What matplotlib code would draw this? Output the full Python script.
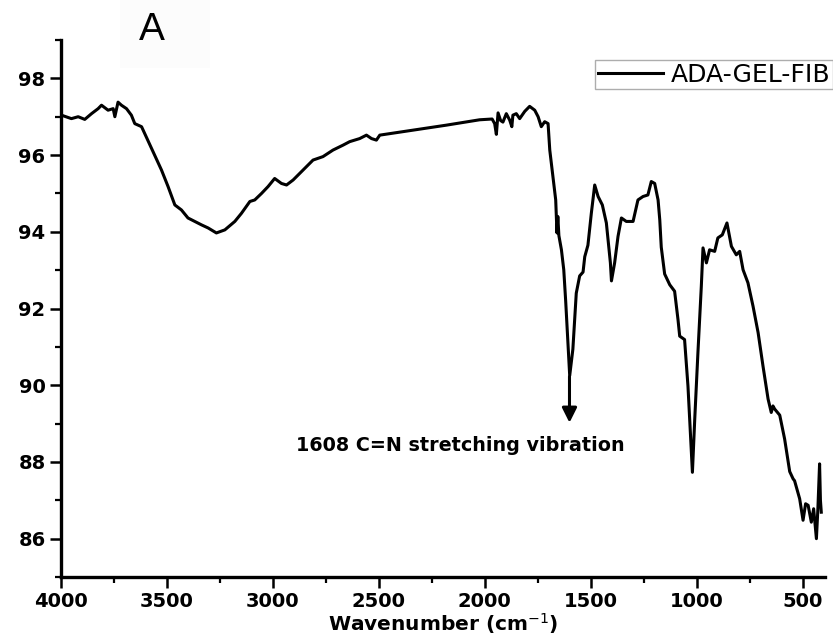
import matplotlib
matplotlib.use("Agg")
import matplotlib.pyplot as plt
from matplotlib.patches import Rectangle
from matplotlib.ticker import MultipleLocator

# FTIR spectrum (wavenumber in cm-1, transmittance %)
wavenumber = [4000, 3997, 3950, 3918, 3887, 3855, 3824, 3808, 3777, 3753,
              3745, 3730, 3714, 3690, 3667, 3651, 3619, 3604, 3572, 3525,
              3494, 3462, 3431, 3400, 3368, 3336, 3305, 3266, 3226, 3179,
              3148, 3108, 3085, 3053, 3022, 2991, 2959, 2935, 2904, 2857,
              2810, 2763, 2716, 2668, 2637, 2590, 2558, 2534, 2511, 2495,
              2338, 2181, 2024, 1965, 1953, 1945, 1937, 1925, 1914, 1898,
              1882, 1872, 1867, 1851, 1835, 1811, 1788, 1764, 1748, 1733,
              1717, 1701, 1693, 1678, 1665, 1659, 1655, 1650, 1638, 1627,
              1618, 1608, 1599, 1584, 1568, 1552, 1536, 1528, 1513, 1497,
              1481, 1465, 1445, 1426, 1407, 1402, 1387, 1371, 1355, 1332,
              1300, 1277, 1253, 1230, 1214, 1198, 1182, 1174, 1167, 1151,
              1127, 1104, 1088, 1080, 1057, 1041, 1025, 1020, 1009, 994,
              978, 970, 954, 939, 915, 900, 879, 857, 836, 813,
              797, 781, 758, 734, 710, 687, 663, 648, 640, 632,
              608, 585, 561, 545, 538, 514, 498, 486, 474, 459,
              448, 435, 428, 420, 416, 412]
transmittance = [97.02, 97.04, 96.95, 97.00, 96.93, 97.08, 97.21, 97.30, 97.17, 97.21,
                 97.00, 97.38, 97.30, 97.21, 97.04, 96.82, 96.74, 96.56, 96.17, 95.61,
                 95.18, 94.70, 94.57, 94.36, 94.27, 94.18, 94.10, 93.97, 94.05, 94.27,
                 94.48, 94.79, 94.83, 95.00, 95.18, 95.39, 95.26, 95.22, 95.35, 95.61,
                 95.87, 95.96, 96.13, 96.26, 96.35, 96.43, 96.52, 96.43, 96.39, 96.52,
                 96.65, 96.78, 96.92, 96.94, 96.82, 96.54, 97.10, 96.90, 96.86, 97.08,
                 96.91, 96.74, 97.04, 97.08, 96.95, 97.14, 97.27, 97.17, 97.00, 96.74,
                 96.87, 96.82, 96.13, 95.44, 94.83, 93.97, 94.40, 93.90, 93.53, 93.01,
                 92.20, 91.20, 90.25, 90.94, 92.40, 92.85, 92.95, 93.35, 93.65, 94.48,
                 95.22, 94.92, 94.70, 94.23, 93.19, 92.72, 93.19, 93.88, 94.36, 94.27,
                 94.27, 94.83, 94.92, 94.96, 95.31, 95.26, 94.83, 94.31, 93.60, 92.90,
                 92.62, 92.45, 91.71, 91.28, 91.19, 89.98, 88.25, 87.73, 89.12, 90.85,
                 92.58, 93.58, 93.19, 93.53, 93.49, 93.84, 93.92, 94.23, 93.62, 93.40,
                 93.49, 93.01, 92.67, 92.06, 91.37, 90.50, 89.64, 89.29, 89.46, 89.38,
                 89.22, 88.60, 87.75, 87.56, 87.51, 87.04, 86.48, 86.91, 86.87, 86.43,
                 86.78, 86.00, 86.78, 87.95, 87.00, 86.69]

series_label = "ADA-GEL-FIB"
peak_pos = 1600
peak_top = 90.3
peak_tip = 88.95
peak_note = "1608 C=N stretching vibration"

plt.rcParams['font.family'] = ['DejaVu Sans']

fig = plt.figure(figsize=(8.33, 6.43), dpi=100)
ax = fig.add_axes([0.073, 0.1026, 0.917, 0.8352])

ax.plot(wavenumber, transmittance, color='black', lw=2.2, label=series_label)

ax.set_xlim(4000, 396)
ax.set_ylim(85, 99)
ax.xaxis.set_major_locator(MultipleLocator(500))
ax.xaxis.set_minor_locator(MultipleLocator(250))
ax.yaxis.set_major_locator(MultipleLocator(2))
ax.yaxis.set_minor_locator(MultipleLocator(1))
ax.set_yticks(range(86, 99, 2))

for s in ['top', 'right']:
    ax.spines[s].set_visible(False)
for s in ['left', 'bottom']:
    ax.spines[s].set_linewidth(2.4)

ax.tick_params(which='major', direction='out', length=8, width=1.8, pad=3)
ax.tick_params(which='minor', direction='out', length=4.5, width=1.6)
for lab in ax.get_xticklabels() + ax.get_yticklabels():
    lab.set_fontweight('bold')
    lab.set_fontsize(14)

ax.set_xlabel("Wavenumber (cm$^{-1}$)", fontsize=14.5, fontweight='bold', labelpad=0)

ax.annotate("", xy=(peak_pos, peak_tip), xytext=(peak_pos, peak_top),
            arrowprops=dict(arrowstyle='-|>', color='black', lw=2.2,
                            mutation_scale=22))
ax.text(2115, 88.42, peak_note, fontsize=13.8, fontweight='bold',
        ha='center', va='center')

leg = ax.legend(loc='upper right', bbox_to_anchor=(0.9995, 1 - 60 / 643),
                bbox_transform=fig.transFigure, fontsize=18, frameon=True,
                fancybox=False, handlelength=2.6, handletextpad=0.3,
                borderpad=0.1, borderaxespad=0)
leg.get_frame().set_edgecolor('#999999')
leg.get_frame().set_linewidth(1.0)

fig.patches.append(Rectangle((120 / 833, 1 - 68 / 643), 90 / 833, 68 / 643,
                             transform=fig.transFigure, facecolor='#fcfcfc',
                             edgecolor='none', zorder=0))
fig.text(152 / 833, 1 - 30 / 643, "A", fontsize=28, ha='center', va='center',
         family='Liberation Sans')

fig.savefig("out.png", dpi=100)
